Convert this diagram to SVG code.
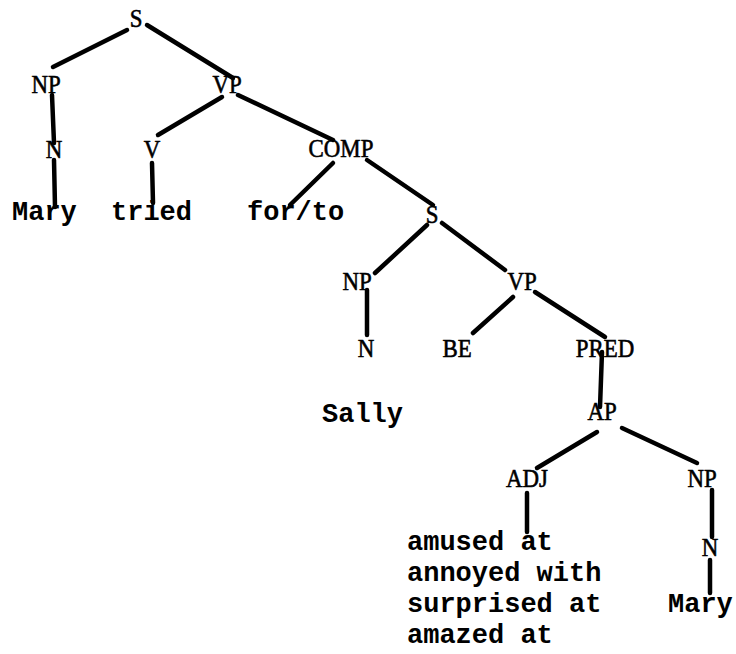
<svg xmlns="http://www.w3.org/2000/svg" width="736" height="654" viewBox="0 0 736 654">
<style>
.lbl{font-family:"Liberation Serif","Times New Roman",serif;font-size:26px;fill:#000;stroke:#000;stroke-width:0.6;text-anchor:middle}
.wd{font-family:"Liberation Mono","Courier New",monospace;font-size:27px;font-weight:bold;fill:#000}
#edges line{stroke:#000;stroke-width:4.5;stroke-linecap:round}
</style>
<rect width="736" height="654" fill="#fff"/>
<g id="edges">
<line x1="127" y1="30" x2="53" y2="67"/>
<line x1="147" y1="25" x2="233" y2="78"/>
<line x1="52" y1="95" x2="54" y2="143"/>
<line x1="54" y1="160" x2="55" y2="207"/>
<line x1="222" y1="97" x2="158" y2="135"/>
<line x1="238" y1="95" x2="333" y2="140"/>
<line x1="152" y1="163" x2="153" y2="203"/>
<line x1="333" y1="163" x2="290" y2="205"/>
<line x1="367" y1="160" x2="433" y2="205"/>
<line x1="427" y1="225" x2="375" y2="273"/>
<line x1="442" y1="223" x2="505" y2="270"/>
<line x1="367" y1="290" x2="367" y2="335"/>
<line x1="513" y1="297" x2="473" y2="333"/>
<line x1="535" y1="292" x2="605" y2="337"/>
<line x1="602" y1="352" x2="600" y2="407"/>
<line x1="597" y1="432" x2="537" y2="468"/>
<line x1="622" y1="428" x2="697" y2="463"/>
<line x1="527" y1="493" x2="527" y2="532"/>
<line x1="712" y1="490" x2="712" y2="537"/>
<line x1="710" y1="560" x2="710" y2="593"/>
</g>
<g id="S1" transform="translate(136 27) scale(0.88 1)"><text class="lbl">S</text></g>
<g id="NP1" transform="translate(46 93) scale(0.88 1)"><text class="lbl">NP</text></g>
<g id="VP1" transform="translate(227 93) scale(0.88 1)"><text class="lbl">VP</text></g>
<g id="N1" transform="translate(54 158) scale(0.88 1)"><text class="lbl">N</text></g>
<g id="V1" transform="translate(152 158) scale(0.88 1)"><text class="lbl">V</text></g>
<g id="COMP1" transform="translate(341 157) scale(0.88 1)"><text class="lbl">COMP</text></g>
<g id="Mary1"><text class="wd" x="12" y="220">Mary</text></g>
<g id="tried"><text class="wd" x="111" y="220">tried</text></g>
<g id="forto"><text class="wd" x="247" y="220">for/to</text></g>
<g id="S2" transform="translate(432 223) scale(0.88 1)"><text class="lbl">S</text></g>
<g id="NP2" transform="translate(357 290) scale(0.88 1)"><text class="lbl">NP</text></g>
<g id="VP2" transform="translate(522 290) scale(0.88 1)"><text class="lbl">VP</text></g>
<g id="N2" transform="translate(366 357) scale(0.88 1)"><text class="lbl">N</text></g>
<g id="BE" transform="translate(457 357) scale(0.88 1)"><text class="lbl">BE</text></g>
<g id="PRED" transform="translate(605 357) scale(0.88 1)"><text class="lbl">PRED</text></g>
<g id="Sally"><text class="wd" x="322" y="422">Sally</text></g>
<g id="AP" transform="translate(602 420) scale(0.88 1)"><text class="lbl">AP</text></g>
<g id="ADJ" transform="translate(527 487) scale(0.88 1)"><text class="lbl">ADJ</text></g>
<g id="NP3" transform="translate(702 487) scale(0.88 1)"><text class="lbl">NP</text></g>
<g id="N3" transform="translate(710 556) scale(0.88 1)"><text class="lbl">N</text></g>
<g id="adjs">
<text class="wd" x="407" y="550">amused at</text>
<text class="wd" x="407" y="581">annoyed with</text>
<text class="wd" x="407" y="612">surprised at</text>
<text class="wd" x="407" y="643">amazed at</text>
</g>
<g id="Mary2"><text class="wd" x="668" y="612">Mary</text></g>
</svg>
